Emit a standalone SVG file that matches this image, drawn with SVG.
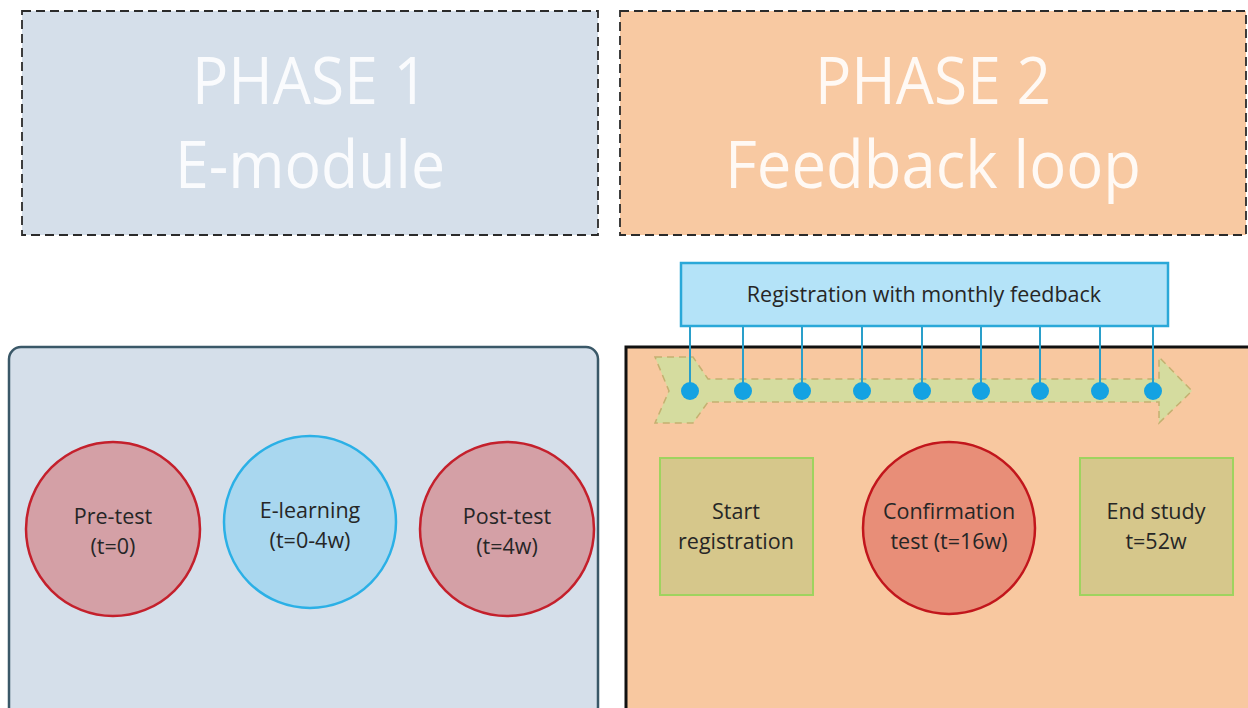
<svg xmlns="http://www.w3.org/2000/svg" width="1248" height="708" viewBox="0 0 1248 708">
  <style>
    .phase { stroke: #2b2b2b; stroke-width: 1.8; stroke-dasharray: 9 5; }
    .title { font-family: "Open Sans", "Liberation Sans", sans-serif; font-size: 66px; fill: #ffffff; fill-opacity: 0.88; text-anchor: middle; }
    .lbl { font-family: "Open Sans", "Liberation Sans", sans-serif; font-size: 21.5px; fill: #262626; text-anchor: middle; }
    .test { fill: #d4a0a6; stroke: #c4202c; stroke-width: 2.5; }
    .learn { fill: #a9d7ef; stroke: #2bb0e6; stroke-width: 2.5; }
    .confirm { fill: #e88e78; stroke: #c2161c; stroke-width: 2.5; }
    .milestone { fill: #d6c78b; stroke: #9fd35f; stroke-width: 2; }
    .tick { stroke: #2a9fca; stroke-width: 2; }
    .dot { fill: #14a2e2; }
  </style>

  <!-- Phase headers -->
  <g id="phase1-header">
    <rect class="phase" x="22" y="11" width="576" height="224" fill="#d5dfea"/>
    <text class="title" x="310" y="104" textLength="236" lengthAdjust="spacingAndGlyphs">PHASE 1</text>
    <text class="title" x="310" y="188" textLength="270" lengthAdjust="spacingAndGlyphs">E-module</text>
  </g>
  <g id="phase2-header">
    <rect class="phase" x="620" y="11" width="626" height="224" fill="#f8c9a2"/>
    <text class="title" x="933" y="104" textLength="236" lengthAdjust="spacingAndGlyphs">PHASE 2</text>
    <text class="title" x="933" y="188" textLength="416" lengthAdjust="spacingAndGlyphs">Feedback loop</text>
  </g>

  <!-- Phase panels -->
  <g id="phase1-panel">
    <rect x="9" y="347" width="589" height="372" rx="12" ry="12" fill="#d5dfea" stroke="#3a5868" stroke-width="2.5"/>
  </g>
  <g id="phase2-panel">
    <rect x="626" y="347" width="630" height="372" fill="#f8c8a0" stroke="#111111" stroke-width="3"/>
  </g>

  <!-- Timeline arrow -->
  <g id="timeline">
    <path d="M655,357 L693,357 L708,379 L1159,379 L1159,357 L1192,391 L1159,423 L1159,402 L708,402 L693,423 L655,423 L669,391 Z"
          fill="#d5dc9f" stroke="#c4b070" stroke-width="1.5" stroke-dasharray="7 5"/>
  </g>

  <!-- Monthly feedback connectors -->
  <g id="connectors">
    <line class="tick" x1="690" y1="326" x2="690" y2="391"/>
    <line class="tick" x1="743" y1="326" x2="743" y2="391"/>
    <line class="tick" x1="802" y1="326" x2="802" y2="391"/>
    <line class="tick" x1="862" y1="326" x2="862" y2="391"/>
    <line class="tick" x1="922" y1="326" x2="922" y2="391"/>
    <line class="tick" x1="981" y1="326" x2="981" y2="391"/>
    <line class="tick" x1="1040" y1="326" x2="1040" y2="391"/>
    <line class="tick" x1="1100" y1="326" x2="1100" y2="391"/>
    <line class="tick" x1="1153" y1="326" x2="1153" y2="391"/>
    <circle class="dot" cx="690" cy="391" r="9"/>
    <circle class="dot" cx="743" cy="391" r="9"/>
    <circle class="dot" cx="802" cy="391" r="9"/>
    <circle class="dot" cx="862" cy="391" r="9"/>
    <circle class="dot" cx="922" cy="391" r="9"/>
    <circle class="dot" cx="981" cy="391" r="9"/>
    <circle class="dot" cx="1040" cy="391" r="9"/>
    <circle class="dot" cx="1100" cy="391" r="9"/>
    <circle class="dot" cx="1153" cy="391" r="9"/>
  </g>

  <g id="registration">
    <rect x="681" y="263" width="487" height="63" fill="#b4e3f8" stroke="#2aa8d8" stroke-width="2.5"/>
    <text class="lbl" x="924" y="302">Registration with monthly feedback</text>
  </g>

  <!-- Phase 1 nodes -->
  <g id="pre-test">
    <circle class="test" cx="113" cy="529" r="87"/>
    <text class="lbl" x="113" y="524">Pre-test</text>
    <text class="lbl" x="113" y="554">(t=0)</text>
  </g>
  <g id="e-learning">
    <circle class="learn" cx="310" cy="522" r="86"/>
    <text class="lbl" x="310" y="518">E-learning</text>
    <text class="lbl" x="310" y="548">(t=0-4w)</text>
  </g>
  <g id="post-test">
    <circle class="test" cx="507" cy="529" r="87"/>
    <text class="lbl" x="507" y="524">Post-test</text>
    <text class="lbl" x="507" y="554">(t=4w)</text>
  </g>

  <!-- Phase 2 nodes -->
  <g id="start-registration">
    <rect class="milestone" x="660" y="458" width="153" height="137"/>
    <text class="lbl" x="736" y="519">Start</text>
    <text class="lbl" x="736" y="549">registration</text>
  </g>
  <g id="confirmation-test">
    <circle class="confirm" cx="949" cy="528" r="86"/>
    <text class="lbl" x="949" y="519">Confirmation</text>
    <text class="lbl" x="949" y="549">test (t=16w)</text>
  </g>
  <g id="end-study">
    <rect class="milestone" x="1080" y="458" width="153" height="137"/>
    <text class="lbl" x="1156" y="519">End study</text>
    <text class="lbl" x="1156" y="549">t=52w</text>
  </g>
</svg>
